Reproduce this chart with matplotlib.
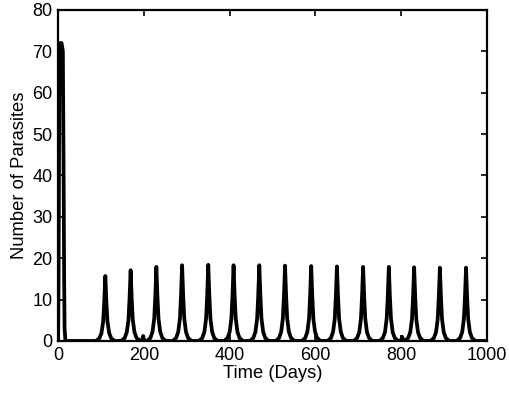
import matplotlib
matplotlib.use("Agg")
import matplotlib.pyplot as plt

plt.rcParams['font.family'] = ['Liberation Sans', 'DejaVu Sans']

# time (days) and number of parasites, read peak by peak from the figure
time_days = [
    0, 1, 2, 3, 5, 8, 11, 12.5, 14, 15, 17,
    88, 96, 101, 105, 107.5, 110, 112.5, 115, 119, 124, 132,
    147, 155, 160, 164, 166.5, 169, 171.5, 174, 178, 183, 191,
    195, 198, 201,
    207, 215, 220, 224, 226.5, 229, 231.5, 234, 238, 243, 251,
    267, 275, 280, 284, 286.5, 289, 291.5, 294, 298, 303, 311,
    328, 336, 341, 345, 347.5, 350, 352.5, 355, 359, 364, 372,
    387, 395, 400, 404, 406.5, 409, 411.5, 414, 418, 423, 431,
    447, 455, 460, 464, 466.5, 469, 471.5, 474, 478, 483, 491,
    507, 515, 520, 524, 526.5, 529, 531.5, 534, 538, 543, 551,
    568, 576, 581, 585, 587.5, 590, 592.5, 595, 599, 604, 612,
    628, 636, 641, 645, 647.5, 650, 652.5, 655, 659, 664, 672,
    689, 697, 702, 706, 708.5, 711, 713.5, 716, 720, 725, 733,
    749, 757, 762, 766, 768.5, 771, 773.5, 776, 780, 785, 793,
    799, 802, 805,
    808, 816, 821, 825, 827.5, 830, 832.5, 835, 839, 844, 852,
    868, 876, 881, 885, 887.5, 890, 892.5, 895, 899, 904, 912,
    929, 937, 942, 946, 948.5, 951, 953.5, 956, 960, 965, 973,
    1000,
]
parasites = [
    0, 15, 45, 68, 72, 72, 70, 45, 15, 3, 0,
    0, 0.6, 1.9, 4.7, 9.4, 15.7, 9.4, 4.7, 1.9, 0.6, 0,
    0, 0.7, 2.1, 5.1, 10.3, 17.1, 10.3, 5.1, 2.1, 0.7, 0,
    0, 1.2, 0,
    0, 0.7, 2.2, 5.4, 10.7, 17.9, 10.7, 5.4, 2.2, 0.7, 0,
    0, 0.7, 2.2, 5.5, 11.0, 18.3, 11.0, 5.5, 2.2, 0.7, 0,
    0, 0.7, 2.2, 5.5, 11.0, 18.4, 11.0, 5.5, 2.2, 0.7, 0,
    0, 0.7, 2.2, 5.5, 11.0, 18.3, 11.0, 5.5, 2.2, 0.7, 0,
    0, 0.7, 2.2, 5.5, 11.0, 18.3, 11.0, 5.5, 2.2, 0.7, 0,
    0, 0.7, 2.2, 5.5, 10.9, 18.2, 10.9, 5.5, 2.2, 0.7, 0,
    0, 0.7, 2.2, 5.4, 10.9, 18.1, 10.9, 5.4, 2.2, 0.7, 0,
    0, 0.7, 2.2, 5.4, 10.8, 18.0, 10.8, 5.4, 2.2, 0.7, 0,
    0, 0.7, 2.1, 5.4, 10.7, 17.9, 10.7, 5.4, 2.1, 0.7, 0,
    0, 0.7, 2.1, 5.4, 10.7, 17.9, 10.7, 5.4, 2.1, 0.7, 0,
    0, 1.0, 0,
    0, 0.7, 2.1, 5.3, 10.7, 17.8, 10.7, 5.3, 2.1, 0.7, 0,
    0, 0.7, 2.1, 5.3, 10.6, 17.7, 10.6, 5.3, 2.1, 0.7, 0,
    0, 0.7, 2.1, 5.3, 10.6, 17.7, 10.6, 5.3, 2.1, 0.7, 0,
    0,
]

x_ticks = [0, 200, 400, 600, 800, 1000]
y_ticks = [0, 10, 20, 30, 40, 50, 60, 70, 80]

fig = plt.figure(figsize=(5.1, 3.96), dpi=100)
ax = fig.add_axes([0.114, 0.139, 0.841, 0.836])
ax.plot(time_days, parasites, color='black', linewidth=2.7)

ax.set_xlim(0, 1000)
ax.set_ylim(0, 80)
ax.set_xticks(x_ticks)
ax.set_yticks(y_ticks)
ax.tick_params(direction='in', top=True, right=True, length=4, width=1.2,
               labelsize=13, pad=4)
for s in ax.spines.values():
    s.set_linewidth(1.6)

ax.set_xlabel('Time (Days)', fontsize=13.2, labelpad=1)
ax.set_ylabel('Number of Parasites', fontsize=13.2, labelpad=3)

fig.savefig('out.png', dpi=100)
